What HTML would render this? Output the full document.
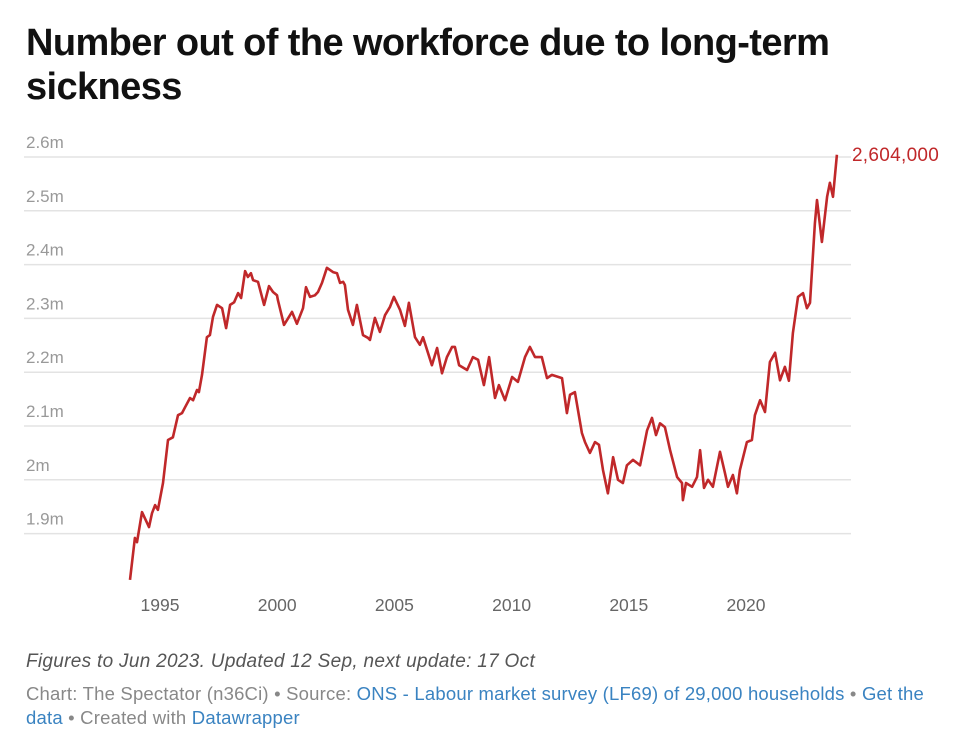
<!DOCTYPE html>
<html><head><meta charset="utf-8"><style>
body{margin:0;background:#fff;width:961px;height:749px;overflow:hidden;font-family:"Liberation Sans",sans-serif;position:relative}
.t{position:absolute;white-space:nowrap}
a{color:#3a83c1;text-decoration:none}
</style></head><body>
<div class="t" style="left:26px;top:21px;font-size:38px;font-weight:bold;line-height:44px;color:#111;letter-spacing:-0.6px">Number out of the workforce due to long-term<br>sickness</div>
<svg id="chart" width="961" height="749" style="position:absolute;left:0;top:0"></svg>
<div class="t" style="left:26px;top:651px;font-size:19px;font-style:italic;color:#555;letter-spacing:0.3px">Figures to Jun 2023. Updated 12 Sep, next update: 17 Oct</div>
<div class="t" style="left:26px;top:682px;font-size:18.5px;color:#888;line-height:24px;letter-spacing:0.2px">Chart: The Spectator (n36Ci) • Source: <a>ONS - Labour market survey (LF69) of 29,000 households</a> • <a>Get the</a><br><a>data</a> • Created with <a>Datawrapper</a></div>
<script>
const years=[1993.72,1993.93,1994.02,1994.23,1994.53,1994.66,1994.79,1994.91,1995.13,1995.34,1995.55,1995.77,1995.94,1996.07,1996.28,1996.41,1996.58,1996.66,1996.79,1997.00,1997.13,1997.26,1997.43,1997.65,1997.82,1997.99,1998.16,1998.33,1998.46,1998.63,1998.75,1998.88,1998.97,1999.18,1999.44,1999.65,1999.82,1999.99,2000.03,2000.29,2000.63,2000.84,2001.10,2001.23,2001.40,2001.61,2001.74,2001.91,2002.12,2002.38,2002.55,2002.68,2002.81,2002.89,2003.02,2003.23,2003.40,2003.66,2003.87,2003.96,2004.17,2004.38,2004.60,2004.81,2004.98,2005.24,2005.45,2005.62,2005.88,2006.09,2006.22,2006.60,2006.82,2007.03,2007.24,2007.46,2007.58,2007.76,2008.10,2008.35,2008.57,2008.82,2009.04,2009.29,2009.46,2009.72,2010.02,2010.27,2010.57,2010.78,2011.00,2011.29,2011.51,2011.72,2012.15,2012.36,2012.49,2012.70,2013.00,2013.13,2013.34,2013.56,2013.73,2013.90,2014.11,2014.33,2014.54,2014.75,2014.92,2015.18,2015.48,2015.78,2015.99,2016.16,2016.33,2016.54,2016.76,2017.06,2017.27,2017.31,2017.44,2017.70,2017.91,2018.04,2018.21,2018.38,2018.59,2018.89,2019.10,2019.23,2019.44,2019.61,2019.74,2020.04,2020.25,2020.38,2020.60,2020.81,2021.02,2021.24,2021.45,2021.66,2021.83,2022.00,2022.22,2022.43,2022.60,2022.73,2022.94,2023.03,2023.24,2023.46,2023.58,2023.71,2023.88];
const values=[1.814,1.892,1.884,1.940,1.912,1.938,1.953,1.944,1.994,2.074,2.079,2.120,2.124,2.135,2.152,2.148,2.167,2.163,2.195,2.265,2.269,2.303,2.325,2.319,2.282,2.325,2.330,2.347,2.338,2.388,2.377,2.384,2.371,2.368,2.325,2.360,2.349,2.343,2.334,2.288,2.312,2.290,2.319,2.358,2.340,2.343,2.349,2.366,2.394,2.386,2.384,2.366,2.368,2.362,2.316,2.288,2.325,2.269,2.264,2.260,2.301,2.275,2.306,2.321,2.340,2.316,2.286,2.329,2.265,2.251,2.265,2.213,2.245,2.198,2.228,2.247,2.247,2.213,2.204,2.228,2.223,2.176,2.228,2.152,2.176,2.148,2.191,2.182,2.228,2.247,2.228,2.228,2.189,2.195,2.189,2.124,2.158,2.163,2.087,2.070,2.050,2.070,2.065,2.018,1.975,2.042,2.000,1.994,2.027,2.037,2.027,2.092,2.115,2.083,2.105,2.098,2.055,2.005,1.994,1.962,1.994,1.987,2.005,2.055,1.985,2.000,1.987,2.052,2.013,1.987,2.009,1.975,2.018,2.070,2.074,2.120,2.148,2.126,2.219,2.236,2.185,2.210,2.184,2.273,2.340,2.347,2.319,2.329,2.477,2.520,2.442,2.526,2.552,2.526,2.604];
const yTicks=[2.6,2.5,2.4,2.3,2.2,2.1,2.0,1.9];
const yTickLabels=["2.6m","2.5m","2.4m","2.3m","2.2m","2.1m","2m","1.9m"];
const xTicks=[1995,2000,2005,2010,2015,2020];
const endLabel="2,604,000";
const NS="http://www.w3.org/2000/svg";
const svg=document.getElementById('chart');
function xs(y){return 160+(y-1995)*23.44;}
function ys(v){return 157+(2.6-v)*538;}
function mk(tag,attrs){const e=document.createElementNS(NS,tag);for(const k in attrs)e.setAttribute(k,attrs[k]);svg.appendChild(e);return e;}
yTicks.forEach((t,i)=>{
  const l=mk('line',{x1:24,x2:851,y1:ys(t),y2:ys(t),stroke:'#e3e3e3','stroke-width':1.5});
  
  
  const tx=mk('text',{x:26,y:ys(t)-9,'font-size':17,fill:'#999','font-family':'Liberation Sans, sans-serif'});
  tx.textContent=yTickLabels[i];
  
  
});
xTicks.forEach(t=>{
  const tx=mk('text',{x:xs(t),y:611,'font-size':17.5,fill:'#666','text-anchor':'middle','font-family':'Liberation Sans, sans-serif'});
  tx.textContent=String(t);
  
  
});
const d=years.map((y,i)=>(i?'L':'M')+xs(y).toFixed(1)+' '+ys(values[i]).toFixed(1)).join(' ');
const p=mk('path',{d:d,fill:'none',stroke:'#c0282a','stroke-width':2.6,'stroke-linejoin':'round'});


const lx=years[years.length-1],lv=values[values.length-1];
const el=mk('text',{x:xs(lx)+15,y:ys(lv)+6,'font-size':19,fill:'#c0282a','font-family':'Liberation Sans, sans-serif','letter-spacing':'0.3'});
el.textContent=endLabel;


</script>
</body></html>
